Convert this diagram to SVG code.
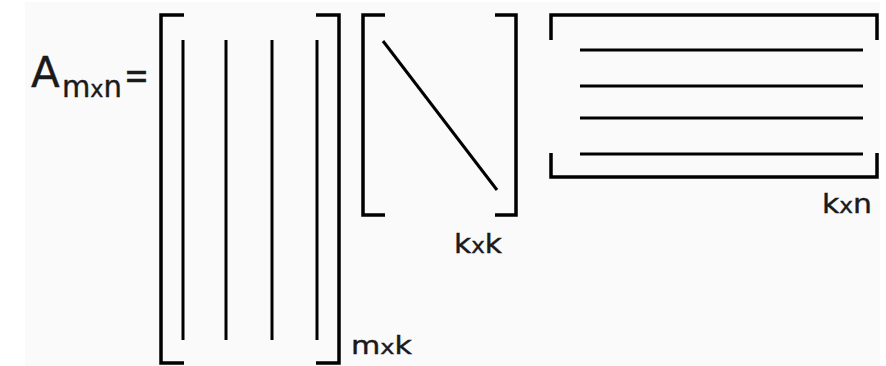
<svg xmlns="http://www.w3.org/2000/svg" width="886" height="366" viewBox="0 0 886 366">
<style>
.br{fill:none;stroke:#000;stroke-width:3.5;stroke-linecap:butt;stroke-linejoin:miter}
.ln{stroke:#000;stroke-width:3;stroke-linecap:butt}
.t{font-family:"DejaVu Sans",sans-serif;fill:#1a1a1a;stroke:#1a1a1a;stroke-width:0.4}
</style>
<rect x="0" y="0" width="886" height="366" fill="#fff"/>
<rect x="25" y="2" width="855" height="364" fill="#fafafa"/>
<g id="lhs">
<text class="t" x="31" y="87" font-size="42">A</text>
<text class="t" x="62" y="97" font-size="30" textLength="60" lengthAdjust="spacingAndGlyphs">m<tspan font-size="23">x</tspan>n</text>
<text class="t" x="124" y="88" font-size="38" textLength="25" lengthAdjust="spacingAndGlyphs">=</text>
</g>
<g id="matrix-mxk">
<path class="br" d="M184,15 H161 V363 H184"/>
<path class="br" d="M316,15 H339 V363 H316"/>
<line class="ln" x1="183" y1="40" x2="183" y2="340"/>
<line class="ln" x1="226" y1="40" x2="226" y2="340"/>
<line class="ln" x1="272" y1="40" x2="272" y2="340"/>
<line class="ln" x1="317" y1="40" x2="317" y2="340"/>
<text class="t" x="351" y="354" font-size="25" textLength="61" lengthAdjust="spacingAndGlyphs">m<tspan font-size="20">x</tspan>k</text>
</g>
<g id="matrix-kxk">
<path class="br" d="M385,15 H363 V215 H385"/>
<path class="br" d="M495,15 H516 V215 H495"/>
<line class="ln" x1="383" y1="41" x2="497" y2="190" stroke-width="2.5"/>
<text class="t" x="454" y="253" font-size="27" textLength="48" lengthAdjust="spacingAndGlyphs">k<tspan font-size="21">x</tspan>k</text>
</g>
<g id="matrix-kxn">
<path class="br" d="M551,40 V15 H877 V40"/>
<path class="br" d="M551,153 V177 H877 V153"/>
<line class="ln" x1="580" y1="50" x2="863" y2="50"/>
<line class="ln" x1="580" y1="86" x2="863" y2="86"/>
<line class="ln" x1="580" y1="118" x2="863" y2="118"/>
<line class="ln" x1="580" y1="154" x2="863" y2="154"/>
<text class="t" x="822" y="213" font-size="27" textLength="50" lengthAdjust="spacingAndGlyphs">k<tspan font-size="21">x</tspan>n</text>
</g>
<g id="connectors"></g>
</svg>
